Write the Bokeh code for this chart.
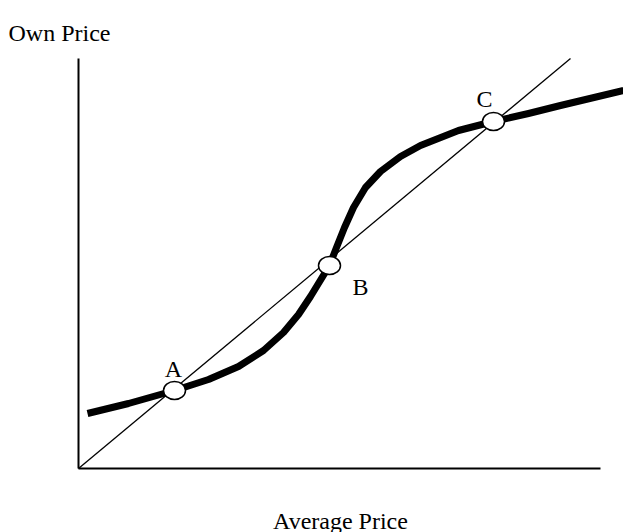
from bokeh.plotting import figure
from bokeh.embed import file_html
from bokeh.resources import INLINE
from bokeh.models import Range1d
from bokeh.core.properties import value

# data in chart units (origin at axes corner)
curve_x = [9, 50, 96, 130, 160, 185, 205, 220, 232, 243, 251, 258, 266, 275, 287, 302, 322, 342, 380, 415, 450, 482, 545]
curve_y = [55, 65, 78, 89, 102, 118, 136, 154, 172, 190, 203, 221, 241, 261, 281, 297, 312, 323, 338, 347, 355, 363, 378]
diag_x = [0, 492]
diag_y = [0, 410]
eq_x = [96, 251, 415]
eq_y = [78, 203, 347]
eq_labels = ["A", "B", "C"]
lab_x = [95, 282, 406]
lab_y = [100, 182, 370]

p = figure(width=623, height=532, output_backend="svg", toolbar_location=None,
           x_range=Range1d(-78, 545), y_range=Range1d(-64, 468), min_border=0)
p.axis.visible = False
p.grid.visible = False
p.outline_line_color = None

p.line([0, 0], [0, 410], line_color="black", line_width=2)
p.line([0, 522], [0, 0], line_color="black", line_width=2)
p.line(diag_x, diag_y, line_color="black", line_width=1.3)
p.line(curve_x, curve_y, line_color="black", line_width=7, line_join="round")
p.ellipse(eq_x, eq_y, width=22, height=18, fill_color="white", line_color="black", line_width=1.5)
p.text(lab_x, lab_y, text=eq_labels, text_font=value("Liberation Serif"), text_font_size="24px",
       text_align="center", text_baseline="middle")
p.text([-70], [436], text=["Own Price"], text_font=value("Liberation Serif"), text_font_size="24px",
       text_baseline="middle")
p.text([262], [-52], text=["Average Price"], text_font=value("Liberation Serif"), text_font_size="24px",
       text_align="center", text_baseline="middle")

open("out.html", "w").write(file_html(p, INLINE))
